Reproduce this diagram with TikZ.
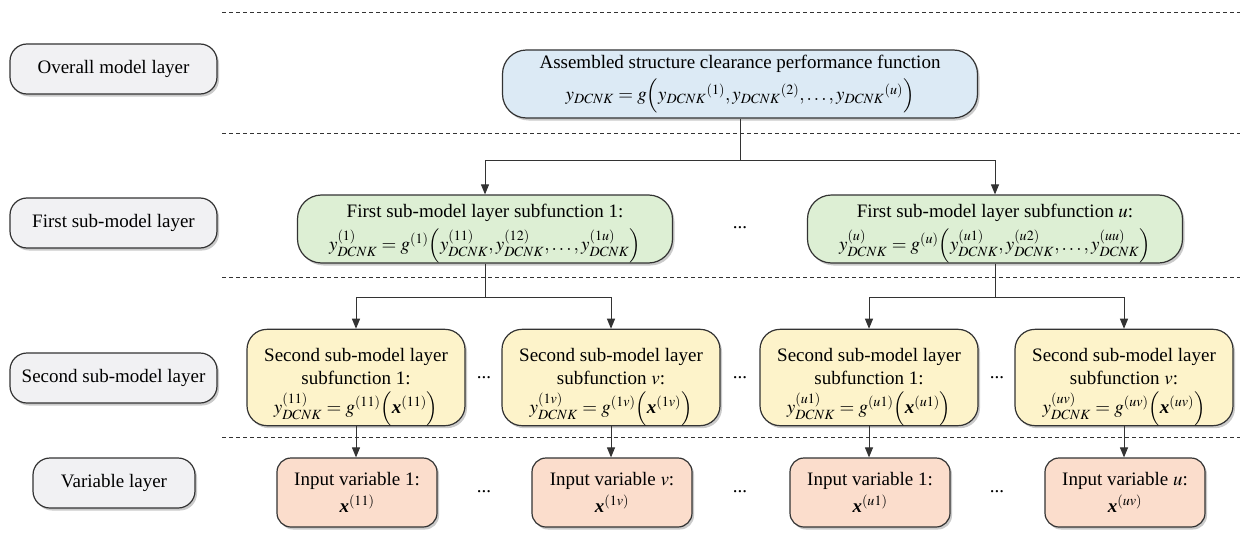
\documentclass[tikz,border=0pt]{standalone}
\usepackage{amsmath}
\usepackage{mathptmx}
\usepackage{fontspec}
\setmainfont{Liberation Serif}
\usetikzlibrary{arrows.meta,shadows}
\definecolor{cBlue}{HTML}{DCEAF5}
\definecolor{cGreen}{HTML}{DDEFD4}
\definecolor{cYellow}{HTML}{FDF3CA}
\definecolor{cPink}{HTML}{FBDDCC}
\definecolor{cGray}{HTML}{F1F1F3}
\definecolor{cLine}{HTML}{333333}
\newcommand{\bxv}{\text{\bfseries\itshape x}}
\newcommand{\upstrut}[1]{\rule{0pt}{#1}}
\tikzset{
  base/.style={draw=cLine, line width=1.2pt, align=center, inner sep=0pt,
    font=\fontsize{19}{22}\selectfont,
    drop shadow={shadow xshift=2pt, shadow yshift=-2.5pt, fill=black!35, opacity=0.6}},
  layerbox/.style={base, fill=cGray, rounded corners=17pt, minimum width=207pt, minimum height=50pt},
  topbox/.style={base, fill=cBlue, rounded corners=24pt, minimum width=475pt, minimum height=68pt},
  firstbox/.style={base, fill=cGreen, rounded corners=24pt, minimum width=375pt, minimum height=68pt},
  secbox/.style={base, fill=cYellow, rounded corners=20pt, minimum width=218pt, minimum height=95pt,
    font=\fontsize{19}{23}\selectfont},
  varbox/.style={base, fill=cPink, rounded corners=14pt, minimum width=160pt, minimum height=69pt},
  dots/.style={font=\fontsize{19}{22}\selectfont, inner sep=0pt},
  sep/.style={dash pattern=on 4pt off 3pt, line width=0.9pt, cLine},
  conn/.style={line width=1pt, cLine},
  arr/.style={conn, -{Triangle[length=10pt, width=8pt]}}
}
\begin{document}
\begin{tikzpicture}[x=1pt,y=-1pt]
\useasboundingbox (0,0) rectangle (1247,543);
% separators
\coordinate (s1a) at (222,12);  \coordinate (s1b) at (1240,12);
\coordinate (s2a) at (222,133); \coordinate (s2b) at (1240,133);
\coordinate (s3a) at (222,277); \coordinate (s3b) at (1240,277);
\coordinate (s4a) at (222,437); \coordinate (s4b) at (1240,437);
\draw[sep] (s1a) -- (s1b);
\draw[sep] (s2a) -- (s2b);
\draw[sep] (s3a) -- (s3b);
\draw[sep] (s4a) -- (s4b);
% layer labels
\node[layerbox] (l1) at (113.5,69) {Overall model layer};
\node[layerbox] (l2) at (113.5,223) {First sub-model layer};
\node[layerbox] (l3) at (113.5,378) {Second sub-model layer};
\node[layerbox, minimum width=162pt] (l4) at (114,483) {Variable layer};
% top
\node[topbox] (top) at (740,84) {Assembled structure clearance performance function\\[6pt]
 $y_{DCNK} = g\Bigl(y_{DCNK}{}^{(1)}, y_{DCNK}{}^{(2)}, \ldots, y_{DCNK}{}^{(u)}\Bigr)$};
% first layer
\node[firstbox] (f1) at (485,229) {\upstrut{22pt}First sub-model layer subfunction 1:\\[6pt]
 $y^{(1)}_{DCNK} = g^{(1)}\Bigl(y^{(11)}_{DCNK}, y^{(12)}_{DCNK}, \ldots, y^{(1u)}_{DCNK}\Bigr)$};
\node[firstbox] (fu) at (995,229) {\upstrut{22pt}First sub-model layer subfunction $u$:\\[6pt]
 $y^{(u)}_{DCNK} = g^{(u)}\Bigl(y^{(u1)}_{DCNK}, y^{(u2)}_{DCNK}, \ldots, y^{(uu)}_{DCNK}\Bigr)$};
\node[dots] (d1) at (740,228) {...};
% second layer
\node[secbox] (s11) at (356,377.5) {\upstrut{32pt}Second sub-model layer\\ subfunction 1:\\[6pt]
 $y^{(11)}_{DCNK} = g^{(11)}\Bigl(\bxv^{(11)}\Bigr)$};
\node[secbox] (s1v) at (611,377.5) {\upstrut{32pt}Second sub-model layer\\ subfunction $v$:\\[6pt]
 $y^{(1v)}_{DCNK} = g^{(1v)}\Bigl(\bxv^{(1v)}\Bigr)$};
\node[secbox] (su1) at (869,377.5) {\upstrut{32pt}Second sub-model layer\\ subfunction 1:\\[6pt]
 $y^{(u1)}_{DCNK} = g^{(u1)}\Bigl(\bxv^{(u1)}\Bigr)$};
\node[secbox] (suv) at (1124,377.5) {\upstrut{32pt}Second sub-model layer\\ subfunction $v$:\\[6pt]
 $y^{(uv)}_{DCNK} = g^{(uv)}\Bigl(\bxv^{(uv)}\Bigr)$};
\node[dots] (d2) at (484,378) {...};
\node[dots] (d3) at (740,378) {...};
\node[dots] (d4) at (997,378) {...};
% variable layer
\node[varbox] (v11) at (357,492.5) {Input variable 1:\\[5pt] $\bxv^{(11)}$};
\node[varbox] (v1v) at (612,492.5) {Input variable $v$:\\[5pt] $\bxv^{(1v)}$};
\node[varbox] (vu1) at (870,492.5) {Input variable 1:\\[5pt] $\bxv^{(u1)}$};
\node[varbox] (vuv) at (1125,492.5) {Input variable $u$:\\[5pt] $\bxv^{(uv)}$};
\node[dots] (d5) at (484,492) {...};
\node[dots] (d6) at (740,492) {...};
\node[dots] (d7) at (997,492) {...};
% connectors
\draw[conn] (top.south) -- ++(0,42) coordinate (j0);
\draw[arr] (j0) -| (f1.north);
\draw[arr] (j0) -| (fu.north);
\draw[conn] (f1.south) -- ++(0,34) coordinate (j1);
\draw[arr] (j1) -| (s11.north);
\draw[arr] (j1) -| (s1v.north);
\draw[conn] (fu.south) -- ++(0,34) coordinate (j2);
\draw[arr] (j2) -| (su1.north);
\draw[arr] (j2) -| (suv.north);
\draw[arr] (s11.south) -- (v11.north -| s11.south);
\draw[arr] (s1v.south) -- (v1v.north -| s1v.south);
\draw[arr] (su1.south) -- (vu1.north -| su1.south);
\draw[arr] (suv.south) -- (vuv.north -| suv.south);
\end{tikzpicture}
\end{document}
